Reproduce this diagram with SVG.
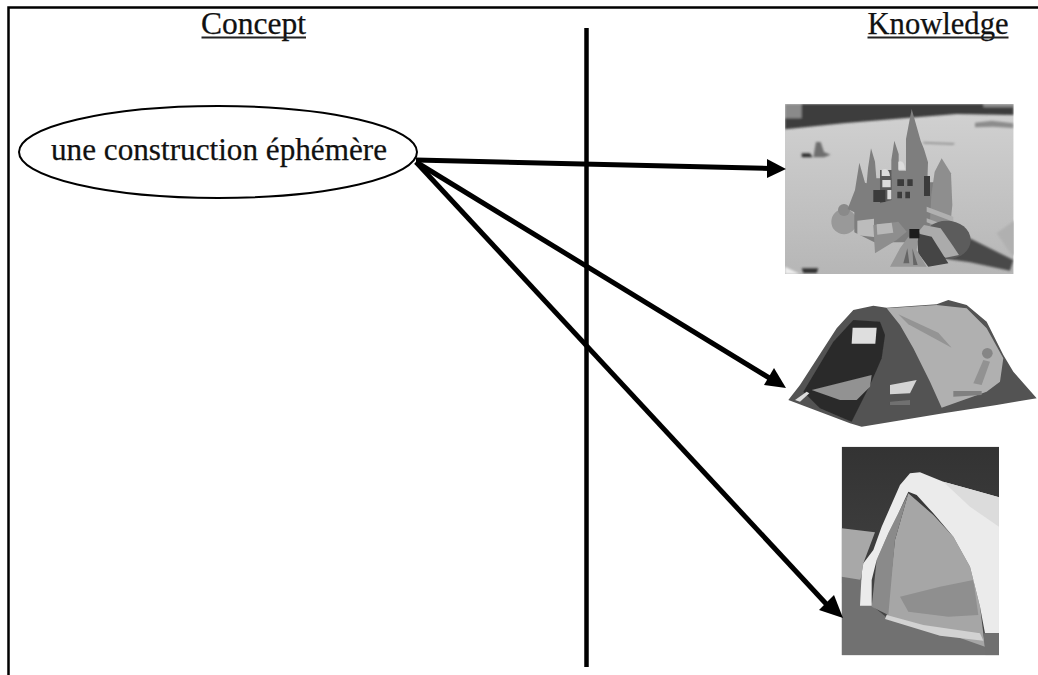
<svg xmlns="http://www.w3.org/2000/svg" width="1038" height="675" viewBox="0 0 1038 675">
<style>
.lbl{font-family:"Liberation Serif",serif;fill:#111;stroke:#111;stroke-width:.25}
.conn line{stroke:#000;stroke-width:5}
.head{fill:#000}
</style>
<defs>
<filter id="b" x="-5%" y="-5%" width="110%" height="110%"><feGaussianBlur stdDeviation="2"/></filter>
<filter id="b2" x="-5%" y="-5%" width="110%" height="110%"><feGaussianBlur stdDeviation="3"/></filter>
<clipPath id="c1"><rect x="45" y="42" width="686" height="510"/></clipPath>
<clipPath id="c3"><rect x="65" y="20" width="472" height="626"/></clipPath>
<linearGradient id="sand" x1="0" y1="0" x2="0" y2="1"><stop offset="0" stop-color="#d2d2d2"/><stop offset="1" stop-color="#b6b6b6"/></linearGradient>
<linearGradient id="sky" x1="0" y1="0" x2="0" y2="1"><stop offset="0" stop-color="#333"/><stop offset="1" stop-color="#484848"/></linearGradient>
</defs>
<rect width="1038" height="675" fill="#fff"/>
<path d="M8.500 675V7.500H1038" fill="none" stroke="#000" stroke-width="2.500"/>

<g id="photo-sandcastle" transform="translate(770 90) scale(.33333)">
<g clip-path="url(#c1)">
<rect x="45" y="42" width="686" height="510" fill="url(#sand)"/>
<g filter="url(#b2)">
<path d="M45 42H731V75L560 72 400 85 220 100 45 118Z" fill="#3e3e3e"/>
<path d="M45 42H95V85H45ZM640 42H731V52H640Z" fill="#8a8a8a"/>
<path d="M615 98l50-6 65 8v14l-60-4-55 2Z" fill="#8c8c8c"/>
<path d="M460 155l95 4-5 6-90-4Z" fill="#9a9a9a"/>
<path d="M95 190l25 0 8 12-33 0Z" fill="#333"/>
<path d="M138 156h14l10 30 20 8-20 8h-32Z" fill="#6e6e6e"/>
<path d="M590 440l140 70-10 32-120-25-70-10Z" fill="#4a4a4a"/>
<path d="M735 390l-55 40 45 65 10 0Z" fill="#b0b0b0"/>
<path d="M95 535h50l-5 14h-40Z" fill="#333"/>
<path d="M45 530l45 22H45Z" fill="#eee"/>
</g>
<g filter="url(#b)">
<ellipse cx="222" cy="395" rx="38" ry="38" fill="#999"/>
<circle cx="222" cy="360" r="18" fill="#8a8a8a"/>
<path d="M255 300l13-82 17 60 5 2 4-45 9-60 12 40 4 50 45 0 0-55 9-58 13 40 0 50 22 0 0-95 17-90 17 60 10 35 10 25 12 40-2 60 25 0 6 90 0 80-60 10-130 0-60-30 0-60-20-10Z" fill="#7e7e7e"/>
<path d="M330 240l35 0 0 90-35 10Z" fill="#5a5a5a"/>
<path d="M335 240q22-10 25 18h-25ZM337 270h25v22h-25ZM352 300h12v28h-12ZM385 215q18-6 20 24l-20 0Z" fill="#dcdcdc"/>
<path d="M382 268h20v20h-20ZM412 268h16v20h-16ZM382 305h14v20h-14ZM406 305h14v20h-14ZM310 300h36v36h-36ZM462 258h18v60h-18Z" fill="#3a3a3a"/>
<path d="M515 205l28 45 4 95-8 80-60-15 5-95 10-70Z" fill="#8e8e8e"/>
<path d="M470 350l80 30 0 15-80-30ZM470 385l70 25 0 12-70-25Z" fill="#b0b0b0"/>
<ellipse cx="530" cy="450" rx="72" ry="58" fill="#5c5c5c"/>
<path d="M462 405l50 10 35 50 20 30-40 8-60-35-20-45Z" fill="#ababab"/>
<path d="M440 430l45 10 50 80-60 10-30-40Z" fill="#444"/>
<path d="M415 440l30 0-5 40 30 50-110 0 30-55Z" fill="#979797"/>
<path d="M400 520l12-45 6 45ZM430 525l-3-50 16 50Z" fill="#666"/>
<path d="M418 417h30v28h-30Z" fill="#1e1e1e"/>
<path d="M262 392l50-6 0 55-50-5Z" fill="#bcbcbc"/>
<path d="M310 405l75-10 25 30-30 25-65 40Z" fill="#8e8e8e"/>
<path d="M320 403l45-5 5 30-48 6Z" fill="#b8b8b8"/>
</g>
</g>
</g>

<g id="photo-tent" transform="translate(770 285) scale(.33333)">
<g filter="url(#b)">
<path d="M55 345L90 300 200 130 250 75 310 62 350 68 500 58 535 45 590 60 650 110 700 210 730 260 800 340 680 360 520 385 275 425 240 415Z" fill="#525252"/>
<path d="M350 70L500 60 590 70 650 130 700 220 690 290 650 320 515 368 480 290 430 190 390 120Z" fill="#b0b0b0"/>
<path d="M385 88l120 55 40 45-130-70Z" fill="#949494"/>
<circle cx="652" cy="205" r="16" fill="#868686"/>
<path d="M640 225l20 5-25 70-25-5Z" fill="#929292"/>
<path d="M550 318h85v12l-85 5Z" fill="#808080"/>
<path d="M100 320L190 170 250 105 330 110 345 150 335 220 300 300 245 410 150 370Z" fill="#2b2b2b"/>
<path d="M248 128h72l-4 48h-71Z" fill="#dedede"/>
<path d="M125 315l180-45-5 35-40 40-50 0Z" fill="#929292"/>
<path d="M75 345l35-25 8 5-28 25Z" fill="#ddd"/>
<path d="M360 300l80-15-20 40-60 3Z" fill="#d4d4d4"/>
<path d="M360 350l60-5v15h-60Z" fill="#707070"/>
</g>
</g>

<g id="photo-igloo" transform="translate(820 440) scale(.33333)">
<g clip-path="url(#c3)">
<rect x="65" y="20" width="472" height="626" fill="url(#sky)"/>
<g filter="url(#b)">
<path d="M65 265L165 277 130 370 120 430H65Z" fill="#a8a8a8"/>
<path d="M65 410L125 420 160 500 210 540 500 600 540 646H65Z" fill="#717171"/>
<path d="M265 160L340 225 400 290 450 380 480 500 495 620 380 580 200 530 225 300Z" fill="#a6a6a6"/>
<path d="M265 160L235 220 205 280 170 360 155 500 205 525 225 300Z" fill="#8a8a8a"/>
<path d="M240 470l120-30 100-20 15 105-90 5-120-15Z" fill="#8f8f8f"/>
<path d="M200 525l110 30 170 25 10 22-130-15-165-50Z" fill="#d2d2d2"/>
<path d="M120 497L125 400 130 370 160 330 185 260 240 135 270 100 300 97 370 125 460 150 537 172V580H495L480 500 450 380 400 290 340 220 290 165 265 155 235 220 205 280 170 360 155 420 155 497Z" fill="#ebebeb"/>
<path d="M370 125L537 172V260L450 200Z" fill="#dcdcdc"/>
<path d="M490 580h47v66h-40Z" fill="#6f6f6f"/>
</g>
</g>
</g>

<g id="vertical-divider"><line x1="586.500" y1="28" x2="586.500" y2="667" stroke="#000" stroke-width="4.500"/></g>

<g id="node-concept">
<ellipse cx="218" cy="152" rx="199" ry="46" fill="none" stroke="#000" stroke-width="2"/>
<text class="lbl" x="219" y="160" font-size="31" text-anchor="middle" textLength="336" lengthAdjust="spacingAndGlyphs">une construction éphémère</text>
</g>

<g class="conn" id="connectors">
<line x1="416" y1="160" x2="770" y2="168.500"/>
<polygon class="head" points="786,169 767,159 767,178"/>
<line x1="416" y1="162" x2="771" y2="379"/>
<polygon class="head" points="786,388 774,368 764,385"/>
<line x1="416" y1="162" x2="830" y2="608"/>
<polygon class="head" points="843,618 834,595 819,610"/>
</g>

<g id="label-concept"><text class="lbl" x="253.500" y="34" font-size="31" text-anchor="middle" textLength="105" lengthAdjust="spacingAndGlyphs">Concept</text><line x1="201.500" y1="37.500" x2="306" y2="37.500" stroke="#222" stroke-width="1.800"/></g>
<g id="label-knowledge"><text class="lbl" x="938" y="34" font-size="31" text-anchor="middle" textLength="141" lengthAdjust="spacingAndGlyphs">Knowledge</text><line x1="867.500" y1="37.500" x2="1008.500" y2="37.500" stroke="#222" stroke-width="1.800"/></g>
</svg>
